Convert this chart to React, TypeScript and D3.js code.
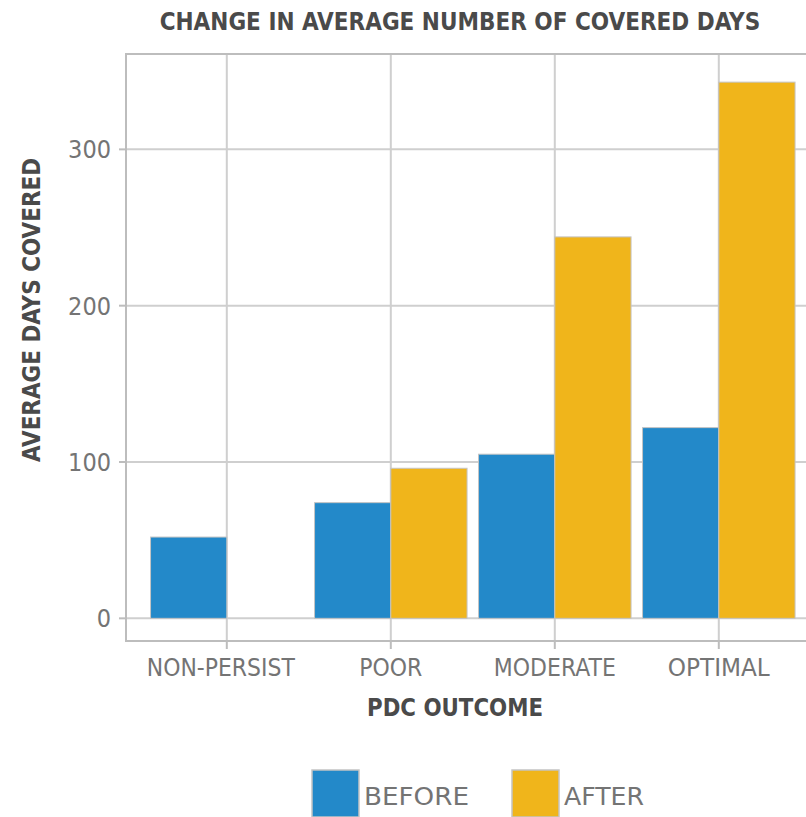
import React from "react";
import * as d3 from "d3";

const categories = ["NON-PERSIST", "POOR", "MODERATE", "OPTIMAL"];
const seriesNames = ["BEFORE", "AFTER"];
const beforeValues: (number | null)[] = [52, 74, 105, 122];
const afterValues: (number | null)[] = [null, 96, 244, 343];
const yTicks = [0, 100, 200, 300];
const titleText = "CHANGE IN AVERAGE NUMBER OF COVERED DAYS";
const xTitleText = "PDC OUTCOME";
const yTitleText = "AVERAGE DAYS COVERED";

const W = 806;
const H = 817;
const FONT = "'DejaVu Sans Condensed', 'Liberation Sans Narrow', 'Roboto', sans-serif";
const colors = ["#2389C9", "#F0B51B"];
const panel = { left: 126, top: 54, right: 840, bottom: 641 };
const xLabelWidths: Record<string, number> = { "NON-PERSIST": 148, POOR: 63, MODERATE: 122, OPTIMAL: 102 };

export default function App() {
  const step = 164;
  const x = d3
    .scaleBand<string>()
    .domain(categories)
    .range([128.4, 128.4 + 4.2 * step])
    .paddingInner(0)
    .paddingOuter(0.1);
  const bw = x.bandwidth();
  const barW = 0.465 * bw;
  const sub = d3.scaleBand<string>().domain(seriesNames).range([-barW, barW]);
  const y = d3.scaleLinear().domain([-14.5, 361]).range([panel.bottom, panel.top]);
  const series = [beforeValues, afterValues];
  const cx = (c: string) => (x(c) as number) + bw / 2;

  return (
    <svg width={W} height={H} style={{ position: "absolute", left: 0, top: 0, background: "#fff" }} fontFamily={FONT}>
      <rect x={0} y={0} width={W} height={H} fill="#fff" />
      {/* title */}
      <text x={460} y={30} textAnchor="middle" fontSize={24} fontWeight="bold" fill="#4a4a4a">
        {titleText}
      </text>
      {/* panel background */}
      <rect x={panel.left} y={panel.top} width={panel.right - panel.left} height={panel.bottom - panel.top} fill="#fff" />
      {/* gridlines */}
      {yTicks.map((t) => (
        <line key={"gy" + t} x1={panel.left} x2={panel.right} y1={y(t)} y2={y(t)} stroke="#cfcfcf" strokeWidth={2} />
      ))}
      {categories.map((c) => (
        <line key={"gx" + c} x1={cx(c)} x2={cx(c)} y1={panel.top} y2={panel.bottom} stroke="#cfcfcf" strokeWidth={2} />
      ))}
      {/* bars */}
      {series.map((vals, si) =>
        categories.map((c, i) => {
          const v = vals[i];
          if (v == null) return null;
          const bx = cx(c) + (sub(seriesNames[si]) as number);
          return (
            <rect
              key={si + c}
              x={bx}
              y={y(v)}
              width={sub.bandwidth()}
              height={y(0) - y(v)}
              fill={colors[si]}
              stroke="#c4c4c4"
              strokeWidth={1}
            />
          );
        })
      )}
      {/* panel border */}
      <rect x={panel.left} y={panel.top} width={panel.right - panel.left} height={panel.bottom - panel.top} fill="none" stroke="#bdbdbd" strokeWidth={2} />
      {/* y ticks */}
      {yTicks.map((t) => (
        <g key={"ty" + t}>
          <line x1={panel.left - 7} x2={panel.left} y1={y(t)} y2={y(t)} stroke="#bdbdbd" strokeWidth={2} />
          <text x={111} y={y(t)} dy="0.36em" textAnchor="end" fontSize={25} fill="#747474">
            {t}
          </text>
        </g>
      ))}
      {/* x ticks */}
      {categories.map((c) => (
        <g key={"tx" + c}>
          <line x1={cx(c)} x2={cx(c)} y1={panel.bottom} y2={panel.bottom + 8} stroke="#bdbdbd" strokeWidth={2} />
          <text
            x={cx(c) - (c === "NON-PERSIST" ? 6 : 0)}
            y={676}
            textAnchor="middle"
            fontSize={25}
            fill="#747474"
            textLength={xLabelWidths[c]}
            lengthAdjust="spacingAndGlyphs"
          >
            {c}
          </text>
        </g>
      ))}
      {/* axis titles */}
      <text x={455} y={716} textAnchor="middle" fontSize={25} fontWeight="bold" fill="#4a4a4a" textLength={176} lengthAdjust="spacingAndGlyphs">
        {xTitleText}
      </text>
      <text
        transform={`translate(40,310) rotate(-90)`}
        textAnchor="middle"
        fontSize={25}
        fontWeight="bold"
        fill="#4a4a4a"
        textLength={304}
        lengthAdjust="spacingAndGlyphs"
      >
        {yTitleText}
      </text>
      {/* legend */}
      {seriesNames.map((s, i) => {
        const kx = [312, 512][i];
        const tw = [105, 80][i];
        return (
          <g key={"lg" + s}>
            <rect x={kx} y={770} width={47} height={47} fill={colors[i]} stroke="#c4c4c4" strokeWidth={1.5} />
            <text x={kx + 52} y={805} fontSize={25} fill="#747474" textLength={tw} lengthAdjust="spacingAndGlyphs">
              {s}
            </text>
          </g>
        );
      })}
    </svg>
  );
}
